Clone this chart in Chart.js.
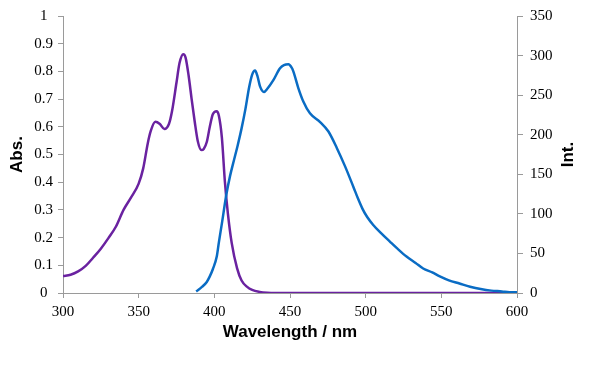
<!DOCTYPE html>
<html><head><meta charset="utf-8">
<script src="https://cdn.jsdelivr.net/npm/chart.js@4"></script>
<style>html,body{margin:0;padding:0;background:#fff}#wrap{width:600px;height:372px}</style>
</head><body><div id="wrap"><canvas id="c" width="600" height="372"></canvas></div>
<script>
// Absorption spectrum (left axis, Abs.)
const absWavelengths = [300,305,310,315,320,325,330,335,340,345,350,353,356,358,361,364,367,370,372,375,377,379.5,381,383,385,387,389,391.5,393,395,397,399,401.5,403,405,407,409,411.5,415,418,421.5,425,430,435,440,600];
const absValues = [0.061,0.066,0.078,0.098,0.128,0.160,0.198,0.240,0.300,0.345,0.395,0.450,0.540,0.585,0.618,0.610,0.592,0.610,0.655,0.760,0.830,0.862,0.850,0.785,0.700,0.620,0.550,0.516,0.520,0.545,0.600,0.645,0.656,0.640,0.560,0.400,0.285,0.180,0.090,0.045,0.023,0.011,0.004,0.001,0,0];
// Emission spectrum (right axis, Int.)
const emWavelengths = [388,392,395,397,399,401.6,403,405,408,410.4,413,415.5,418,420.5,423,425,426.9,428.5,430.2,432.8,435,439,443.4,446,449,451,452.2,455.5,458.8,463.2,469.9,475.4,481,486.4,491.9,495,498,501,505,510,516,521,527,533,538,544,549,555,562,569,576,583,590,595,600];
const emValues = [2,8,14,21,30,46,64,88,125,148,168,187,208,232,260,276,281,274,261,254,258,269,284,288,289,285,280,259,242,227,216,204,183,160,134,119,106,96,86,76,65,56,46,38,31,26,21,16,12,8,5,3,2,1,1];
// Axis ticks
const xTickRange = [300, 600, 50];
const absTickRange = [0, 1, 0.1];
const intTickRange = [0, 350, 50];
const titles = {x: 'Wavelength / nm', left: 'Abs.', right: 'Int.'};

const absData = absWavelengths.map((x, i) => ({x, y: absValues[i]}));
const emData = emWavelengths.map((x, i) => ({x, y: emValues[i]}));

const tickFont = {family: '"Liberation Serif", "Times New Roman", serif', size: 15};
const titleFont = {family: '"Liberation Sans", Arial, sans-serif', size: 17, weight: 'bold'};
const axisGray = '#9a9a9a';

const rightTitle = {
  id: 'rightTitle',
  afterDraw(chart) {
    const s = chart.scales.y2;
    const ctx = chart.ctx;
    ctx.save();
    ctx.font = 'bold 17px "Liberation Sans", Arial, sans-serif';
    ctx.fillStyle = '#000';
    ctx.textAlign = 'center';
    ctx.textBaseline = 'middle';
    ctx.translate(s.left + 51, (s.top + s.bottom) / 2);
    ctx.rotate(-Math.PI / 2);
    ctx.fillText(titles.right, 0, 0);
    ctx.restore();
  }
};

new Chart(document.getElementById('c'), {
  type: 'line',
  data: {
    datasets: [
      {label: 'Emission', data: emData, yAxisID: 'y2', borderColor: '#0a6cc4', borderWidth: 2.5, pointRadius: 0, cubicInterpolationMode: 'monotone', fill: false},
      {label: 'Absorption', data: absData, yAxisID: 'y', borderColor: '#6a22a0', borderWidth: 2.5, pointRadius: 0, cubicInterpolationMode: 'monotone', fill: false}
    ]
  },
  options: {
    responsive: false,
    devicePixelRatio: 1,
    animation: false,
    layout: {padding: {top: 16, left: 0, right: 0, bottom: 0}},
    plugins: {legend: {display: false}, tooltip: {enabled: false}},
    scales: {
      x: {
        type: 'linear', min: xTickRange[0], max: xTickRange[1],
        ticks: {stepSize: xTickRange[2], font: tickFont, color: '#000', padding: 5, maxRotation: 0},
        grid: {drawOnChartArea: false, tickLength: 5, color: axisGray},
        border: {color: axisGray, width: 1},
        title: {display: true, text: titles.x, font: titleFont, color: '#000', padding: {top: 0, bottom: 29}},
        afterFit: s => { s.height = 79; }
      },
      y: {
        position: 'left', min: absTickRange[0], max: absTickRange[1],
        ticks: {stepSize: absTickRange[2], font: tickFont, color: '#000', padding: 5, crossAlign: 'center',
          callback: v => String(+v.toFixed(1))},
        grid: {drawOnChartArea: false, tickLength: 5, color: axisGray},
        border: {color: axisGray, width: 1},
        title: {display: true, text: titles.left, font: titleFont, color: '#000', padding: {top: 7, bottom: 0}},
        afterFit: s => { s.width = 63; }
      },
      y2: {
        position: 'right', min: intTickRange[0], max: intTickRange[1],
        ticks: {stepSize: intTickRange[2], font: tickFont, color: '#000', padding: 7},
        grid: {drawOnChartArea: false, tickLength: 6, color: axisGray},
        border: {color: axisGray, width: 1},
        afterFit: s => { s.width = 83; }
      }
    }
  },
  plugins: [rightTitle]
});
</script>
</body></html>
